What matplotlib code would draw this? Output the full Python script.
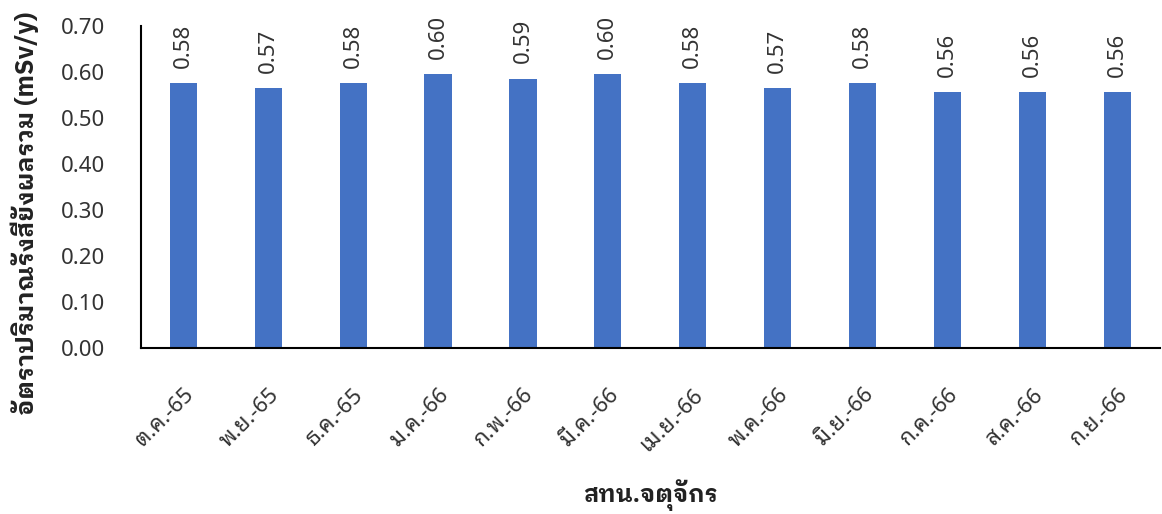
import matplotlib
matplotlib.use("Agg")
import matplotlib.pyplot as plt

months = ["ต.ค.-65", "พ.ย.-65", "ธ.ค.-65", "ม.ค.-66", "ก.พ.-66", "มี.ค.-66",
          "เม.ย.-66", "พ.ค.-66", "มิ.ย.-66", "ก.ค.-66", "ส.ค.-66", "ก.ย.-66"]
dose = [0.576, 0.566, 0.576, 0.596, 0.586, 0.596,
        0.576, 0.566, 0.576, 0.556, 0.556, 0.556]
yticks = [0.0, 0.1, 0.2, 0.3, 0.4, 0.5, 0.6, 0.7]

plt.rcParams["font.family"] = ["Noto Sans", "Noto Sans Thai Looped", "DejaVu Sans"]
bold_family = ["IBM Plex Sans Thai Looped", "Noto Sans Thai Looped", "DejaVu Sans"]

fig = plt.figure(figsize=(11.62, 5.14), dpi=100)
ax = fig.add_axes([0.1213, 0.323, 0.8767, 0.626])

x = list(range(len(months)))
bars = ax.bar(x, dose, width=0.32, color="#4472C4")

for b, v in zip(bars, dose):
    ax.annotate(f"{v:.2f}", xy=(b.get_x() + b.get_width() / 2, b.get_height()),
                xytext=(0, 11), textcoords="offset points",
                ha="center", va="bottom", rotation=90, fontsize=16, color="#333333")

ax.set_xlim(-0.5, len(months) - 0.5)
ax.set_ylim(0, 0.7)
ax.set_yticks(yticks)
ax.set_yticklabels([f"{t:.2f}" for t in yticks], fontsize=16, color="#333333")
ax.set_xticks(x)
ax.set_xticklabels(months, rotation=45, ha="right", rotation_mode="anchor",
                   fontsize=16, color="#333333")
ax.tick_params(axis="both", length=0)
ax.tick_params(axis="y", pad=26)
ax.tick_params(axis="x", pad=26)

for s in ["top", "right"]:
    ax.spines[s].set_visible(False)
for s in ["left", "bottom"]:
    ax.spines[s].set_color("black")
    ax.spines[s].set_linewidth(1.5)

fig.text(0.021, 0.585, "อัตราปริมาณรังสียังผลรวม (mSv/y)", rotation=90,
         ha="center", va="center", fontsize=18, fontweight="bold",
         family=bold_family, color="#222222")
fig.text(0.56, 0.037, "สทน.จตุจักร", ha="center", va="center",
         fontsize=17, fontweight="bold", family=bold_family, color="#222222")

fig.savefig("out.png", dpi=100)
